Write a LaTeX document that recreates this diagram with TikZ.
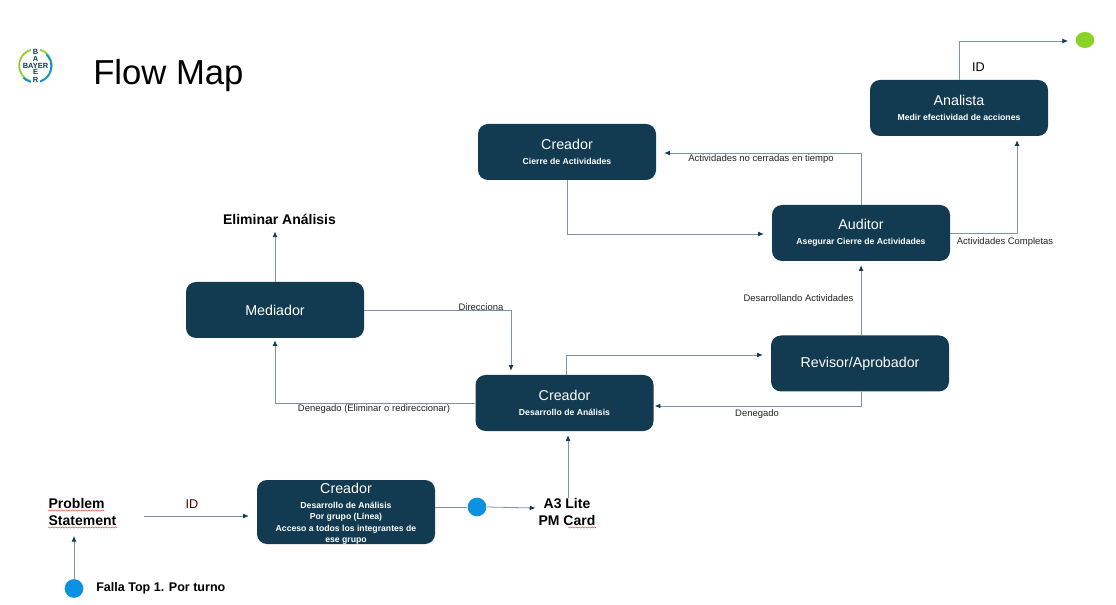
\documentclass[tikz,border=0pt]{standalone}
\usepackage{fontspec}
\setmainfont{Liberation Sans}
\usetikzlibrary{calc,arrows.meta,decorations.pathmorphing,shapes.geometric}
\definecolor{navy}{HTML}{123A50}
\definecolor{wire}{HTML}{7F95A3}
\definecolor{dotblue}{HTML}{0A91E0}
\definecolor{dotgreen}{HTML}{89D329}
\definecolor{squig}{HTML}{E05040}
\tikzset{
  x=0.75pt,y=-0.75pt,
  card/.style={fill=navy,rounded corners=7.5pt,minimum width=133.5pt,minimum height=42pt,inner sep=0pt,align=center,text=white,font=\fontsize{8.6}{10}\selectfont},
  wirearrow/.style={draw=wire,line width=0.6pt,-{Latex[length=4.2pt,width=3.6pt,color=navy]}},
  wireplain/.style={draw=wire,line width=0.6pt},
  note/.style={inner sep=0pt,font=\fontsize{7.1}{8}\selectfont,text=black!85},
  strong/.style={inner sep=0pt,font=\fontsize{10.5}{12.75}\selectfont\bfseries,text=black},
  logotext/.style={inner sep=0pt,font=\fontsize{5.6}{5.4}\selectfont\bfseries,text=navy,align=center},
  squiggle/.style={draw=squig,line width=0.4pt,decorate,decoration={snake,amplitude=0.4pt,segment length=2.5pt}},
}
\newcommand{\head}[1]{{\fontsize{10.7}{13}\selectfont #1}}
\newcommand{\subl}[1]{{\fontsize{6.5}{8}\selectfont\bfseries #1}}
\begin{document}
\begin{tikzpicture}
\useasboundingbox (0,0) rectangle (1116,605);
\fill[white] (0,0) rectangle (1116,605);
% logo
\node[circle,draw=dotgreen,line width=1.3pt,minimum size=24.5pt,inner sep=0pt] (logo) at (35.5,65.5) {};
\draw[dotblue,line width=1.3pt] (logo.south west) arc[start angle=225,end angle=405,radius=12.25pt];
\fill[white] (21,61.5) rectangle (50,69.5);
\fill[white] (31,47) rectangle (40,84);
\node[logotext,anchor=south] (logot) at (35.5,61.5) {B\\A};
\node[logotext] (logoh) at (35.5,65.5) {BAYER};
\node[logotext,anchor=north] (logob) at (35.5,69.5) {E\\R};
\node[inner sep=0pt,font=\fontsize{26}{30}\selectfont,text=black,anchor=west] (title) at (93,76) {Flow Map};
% cards
\node[card] (analista) at (959,108) {\head{Analista}\\[1pt]\subl{Medir efectividad de acciones}};
\node[card] (cierre) at (567,152) {\head{Creador}\\[1pt]\subl{Cierre de Actividades}};
\node[card] (auditor) at (861,233) {\head{Auditor}\\[1pt]\subl{Asegurar Cierre de Actividades}};
\node[card] (mediador) at (275,310) {\head{Mediador}};
\node[card] (revisor) at (860,363.5) {\head{Revisor/Aprobador}};
\node[card] (desarrollo) at (564.5,403) {\head{Creador}\\[1pt]\subl{Desarrollo de Análisis}};
\node[card,minimum height=48pt] (grupo) at (346,512) {};
\node[inner sep=0pt,align=center,text=white,anchor=north,font=\fontsize{6.5}{8.6}\selectfont\bfseries] (grupot) at (346,483) {\mdseries\head{Creador}\\[2.4pt]Desarrollo de Análisis\\Por grupo (Línea)\\Acceso a todos los integrantes de\\ese grupo};
% free text nodes
\node[strong] (eliminar) at (279.5,219) {Eliminar Análisis};
\node[strong,align=left] (problem) at (82.5,512) {Problem\\Statement};
\node[strong,align=center] (a3) at (567,512) {A3 Lite\\PM Card};
\node[inner sep=0pt,font=\fontsize{9.4}{11}\selectfont\bfseries,anchor=west] (falla) at (96,588.5) {Falla Top 1. Por turno};
\node[circle,fill=dotblue,minimum size=14pt,inner sep=0pt] (dotA) at (477,507) {};
\node[circle,fill=dotblue,minimum size=14pt,inner sep=0pt] (dotB) at (74,588.5) {};
\node[ellipse,fill=dotgreen,minimum width=14pt,minimum height=12pt,inner sep=0pt] (dotC) at (1085,40) {};
% connectors
\draw[wirearrow] (analista.north) |- ([xshift=-5.5pt,yshift=-0.75pt]dotC.west);
\draw[wirearrow] (auditor.east) -| ($(analista.south)+(58,4)$);
\draw[wirearrow] (auditor.north) |- ($(cierre.east)+(8,1)$);
\draw[wirearrow] (cierre.south) |- ($(auditor.west)+(-8,1)$);
\draw[wirearrow] (revisor.north -| auditor.north) -- ($(auditor.south)+(0,4)$);
\draw[wirearrow] (revisor.south -| auditor.north) |- ($(desarrollo.east)+(1,3)$);
\draw[wirearrow] ($(desarrollo.north)+(1.5,0)$) |- ($(revisor.west)+(-8,-8.5)$);
\draw[wirearrow] (mediador.east) -| ($(desarrollo.north)+(-53.5,-4)$);
\draw[wirearrow] (desarrollo.west) -| ($(mediador.south)+(0,2)$);
\draw[wirearrow] (mediador.north) -- ($(eliminar.south)+(-4.5,7)$);
\draw[wirearrow] ($(problem.east)+(27,4)$) -- ($(grupo.west)+(-8,4)$);
\draw[wireplain] ($(grupo.east)+(0,-5)$) -- (dotA);
\draw[wirearrow] (dotA.east) -- ($(a3.west)+(-3,-4)$);
\draw[wirearrow] ($(a3.north)+(1,0)$) -- ($(desarrollo.south)+(3.5,4)$);
\draw[wirearrow] (dotB) -- ($(problem.south)+(-8.5,10)$);
% labels
\node[note] (l1) at (761,159) {Actividades no cerradas en tiempo};
\node[note] (l2) at (1005,242) {Actividades Completas};
\node[note] (l3) at (798.5,298) {Desarrollando Actividades};
\node[note] (l4) at (481,307) {Direcciona};
\node[note] (l5) at (374,409) {Denegado (Eliminar o redireccionar)};
\node[note] (l6) at (757,414) {Denegado};
\node[inner sep=0pt,font=\fontsize{9.5}{11}\selectfont] (id1) at (978.5,67) {ID};
\node[inner sep=0pt,font=\fontsize{9.5}{11}\selectfont,text=black!70!red] (id2) at (192,504) {ID};
% squiggles
\draw[squiggle] (48,510.5) -- (104,510.5);
\draw[squiggle] (48,527.5) -- (117,527.5);
\draw[squiggle] (568,527.5) -- (596,527.5);
\end{tikzpicture}
\end{document}
